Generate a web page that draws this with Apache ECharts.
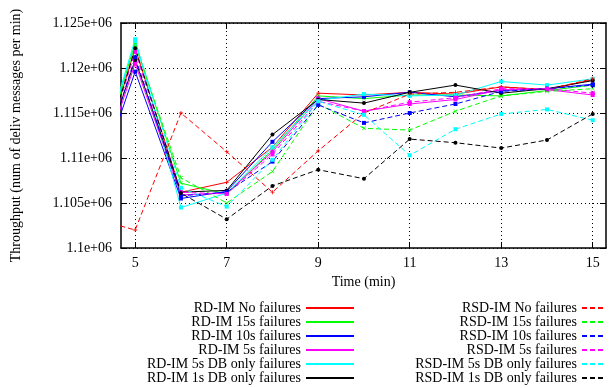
<!DOCTYPE html>
<html><head><meta charset="utf-8">
<script src="https://cdn.jsdelivr.net/npm/echarts@6/dist/echarts.min.js"></script>
<style>html,body{margin:0;padding:0;background:#fff}#c{width:616px;height:388px}</style>
</head><body><div id="c"></div>
<script>
const xValues = [4, 5, 6, 7, 8, 9, 10, 11, 12, 13, 14, 15];
const xTicks = [5, 7, 9, 11, 13, 15];
const yTicks = [1100000, 1105000, 1110000, 1115000, 1120000, 1125000];
const yTickLabels = ['1.1e+06', '1.105e+06', '1.11e+06', '1.115e+06', '1.12e+06', '1.125e+06'];

const rdNoFail   = [1105500, 1122200, 1106200, 1107300, 1111200, 1117200, 1117000, 1117300, 1117100, 1117900, 1117600, 1118700];
const rd15s      = [1106000, 1122800, 1107200, 1106000, 1110900, 1116900, 1116600, 1117000, 1117000, 1116900, 1117500, 1118100];
const rd10s      = [1104700, 1119600, 1105500, 1106300, 1111800, 1116600, 1116800, 1117300, 1116800, 1117500, 1117700, 1118200];
const rd5s       = [1105200, 1120500, 1105900, 1106100, 1110700, 1116600, 1115200, 1116000, 1116500, 1117600, 1117600, 1117000];
const rd5sDb     = [1106200, 1123200, 1104500, 1106100, 1111200, 1116400, 1117100, 1116900, 1117000, 1118500, 1118100, 1118800];
const rd1sDb     = [1105800, 1120900, 1106200, 1106400, 1112600, 1116500, 1116100, 1117300, 1118100, 1117200, 1117700, 1118600];
const rsdNoFail  = [1103400, 1102000, 1115000, 1110700, 1106200, 1110800, 1115000, 1117100, 1117300, 1117900, 1117600, 1118800];
const rsd15s     = [1105800, 1122600, 1107800, 1105000, 1108500, 1116000, 1113300, 1113100, 1115200, 1116900, 1117400, 1117700];
const rsd10s     = [1105200, 1121200, 1105800, 1106200, 1109600, 1115900, 1113900, 1115000, 1116000, 1117400, 1117700, 1118100];
const rsd5s      = [1105500, 1121800, 1106200, 1106000, 1110400, 1116300, 1115200, 1116200, 1116700, 1117700, 1117700, 1117200];
const rsd5sDb    = [1106000, 1123000, 1106700, 1104600, 1109800, 1116300, 1114800, 1110300, 1113200, 1114900, 1115400, 1114200];
const rsd1sDb    = [1105500, 1122200, 1106100, 1103200, 1106900, 1108700, 1107700, 1112100, 1111700, 1111100, 1112000, 1114900];

const seriesNames = [
  'RD-IM No failures', 'RD-IM 15s failures', 'RD-IM 10s failures', 'RD-IM 5s failures',
  'RD-IM 5s DB only failures', 'RD-IM 1s DB only failures',
  'RSD-IM No failures', 'RSD-IM 15s failures', 'RSD-IM 10s failures', 'RSD-IM 5s failures',
  'RSD-IM 5s DB only failures', 'RSD-IM 1s DB only failures'];
const seriesValues = [rdNoFail, rd15s, rd10s, rd5s, rd5sDb, rd1sDb, rsdNoFail, rsd15s, rsd10s, rsd5s, rsd5sDb, rsd1sDb];
const colors = ['#ff0000', '#00ff00', '#0000ff', '#ff00ff', '#00ffff', '#000000'];
const plusPath = 'path://M4,0h2v10h-2zM0,4h10v2h-10z';
const crossPath = 'path://M1,0L5,4L9,0L10,1L6,5L10,9L9,10L5,6L1,10L0,9L4,5L0,1z';
const symbols = [plusPath, crossPath, 'rect', 'rect', 'rect', 'circle'];

const FONT = 'Liberation Serif';
const FS = 14;

const series = seriesValues.map((vals, i) => {
  const c = colors[i % 6];
  const dashed = i >= 6;
  return {
    name: seriesNames[i],
    type: 'line',
    data: xValues.map((x, j) => [x, vals[j]]),
    symbol: symbols[i % 6],
    symbolSize: 4,
    showSymbol: true,
    clip: true,
    lineStyle: { color: c, width: 1, type: dashed ? [5, 3] : 'solid' },
    itemStyle: { color: c },
    emphasis: { disabled: true },
    animation: false
  };
});

const chart = echarts.init(document.getElementById('c'), null, { renderer: 'canvas' });
const axisCommon = { color: '#000', width: 1.5 };
const legendCommon = {
  orient: 'vertical', align: 'right', top: 301, bottom: 0, padding: 0,
  itemHeight: 2, itemGap: 0,
  textStyle: { color: '#000', fontFamily: FONT, fontSize: FS, lineHeight: 14 },
  selectedMode: false
};
chart.setOption({
  backgroundColor: '#fff',
  animation: false,
  grid: { left: 121, top: 23, right: 10, bottom: 140, containLabel: false },
  xAxis: [{
    type: 'value', min: 4.69, max: 15.29, position: 'bottom',
    axisLine: { show: true, onZero: false, lineStyle: axisCommon },
    axisTick: { show: true, inside: true, length: 6, customValues: xTicks, lineStyle: { color: '#000' } },
    axisLabel: { customValues: xTicks, color: '#000', fontFamily: FONT, fontSize: FS, margin: 8 },
    splitLine: { show: true, lineStyle: { type: [1, 3], color: '#000', width: 1 } },
    name: 'Time (min)', nameLocation: 'middle', nameGap: 27,
    nameTextStyle: { color: '#000', fontFamily: FONT, fontSize: FS }
  }, {
    type: 'value', min: 4.69, max: 15.29, position: 'top',
    axisLine: { show: true, onZero: false, lineStyle: axisCommon },
    axisTick: { show: true, inside: true, length: 6, customValues: xTicks, lineStyle: { color: '#000' } },
    axisLabel: { show: false },
    splitLine: { show: false }
  }],
  yAxis: [{
    type: 'value', min: 1100000, max: 1125000, interval: 5000, position: 'left',
    axisLine: { show: true, onZero: false, lineStyle: axisCommon },
    axisTick: { show: true, inside: true, length: 6, lineStyle: { color: '#000' } },
    axisLabel: {
      color: '#000', fontFamily: FONT, fontSize: FS, margin: 9,
      formatter: v => { const k = yTicks.indexOf(Math.round(v)); return k >= 0 ? yTickLabels[k] : ''; }
    },
    splitLine: { show: true, lineStyle: { type: [1, 3], color: '#000', width: 1 } },
    name: 'Throughput (num of deliv messages per min)', nameLocation: 'middle', nameGap: 98,
    nameTextStyle: { color: '#000', fontFamily: FONT, fontSize: FS }
  }, {
    type: 'value', min: 1100000, max: 1125000, interval: 5000, position: 'right',
    axisLine: { show: true, onZero: false, lineStyle: axisCommon },
    axisTick: { show: true, inside: true, length: 6, lineStyle: { color: '#000' } },
    axisLabel: { show: false },
    splitLine: { show: false }
  }],
  legend: [
    Object.assign({}, legendCommon, { data: seriesNames.slice(0, 6), right: 261, itemWidth: 48 }),
    Object.assign({}, legendCommon, { data: seriesNames.slice(6), right: 9, itemWidth: 24 })
  ],
  series: series
});
</script></body></html>
